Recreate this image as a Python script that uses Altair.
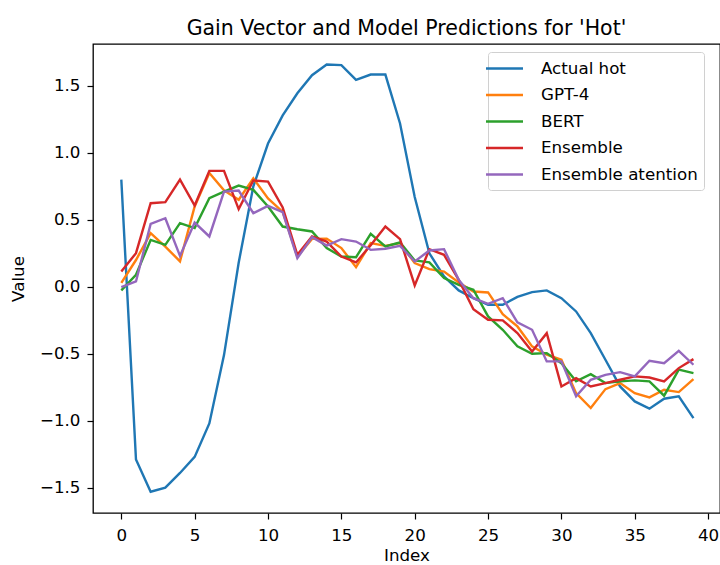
import altair as alt
import pandas as pd

# Index positions along the gain vector
index = list(range(40))

actual_hot = [0.80, -1.29, -1.53, -1.50, -1.39, -1.27, -1.02, -0.51, 0.18, 0.75,
              1.07, 1.28, 1.445, 1.58, 1.66, 1.655, 1.545, 1.585, 1.585, 1.22,
              0.67, 0.25, 0.077, -0.027, -0.085, -0.134, -0.134, -0.075, -0.040, -0.027,
              -0.085, -0.184, -0.346, -0.545, -0.744, -0.856, -0.910, -0.836, -0.818, -0.980]

gpt4 = [0.03, 0.20, 0.40, 0.30, 0.19, 0.60, 0.85, 0.72, 0.65, 0.81,
        0.66, 0.56, 0.226, 0.358, 0.36, 0.289, 0.147, 0.326, 0.306, 0.326,
        0.177, 0.132, 0.114, 0.032, -0.035, -0.042, -0.205, -0.296, -0.445, -0.507,
        -0.545, -0.794, -0.905, -0.764, -0.719, -0.794, -0.826, -0.769, -0.786, -0.689]

bert = [-0.027, 0.09, 0.35, 0.313, 0.475, 0.438, 0.662, 0.711, 0.756, 0.724,
        0.60, 0.45, 0.43, 0.413, 0.289, 0.226, 0.221, 0.396, 0.301, 0.331,
        0.197, 0.182, 0.065, 0.015, -0.022, -0.221, -0.321, -0.445, -0.50, -0.495,
        -0.57, -0.706, -0.652, -0.719, -0.706, -0.699, -0.706, -0.813, -0.619, -0.644]

ensemble = [0.114, 0.251, 0.624, 0.632, 0.80, 0.607, 0.866, 0.866, 0.58, 0.794,
            0.786, 0.592, 0.239, 0.376, 0.338, 0.226, 0.182, 0.31, 0.45, 0.356,
            0.01, 0.281, 0.239, 0.052, -0.167, -0.246, -0.251, -0.345, -0.483, -0.346,
            -0.744, -0.682, -0.744, -0.719, -0.694, -0.669, -0.677, -0.706, -0.607, -0.54]

ensemble_attention = [-0.002, 0.04, 0.47, 0.512, 0.231, 0.48, 0.376, 0.711, 0.719, 0.55,
                      0.604, 0.557, 0.214, 0.371, 0.308, 0.356, 0.338, 0.276, 0.284, 0.306,
                      0.189, 0.271, 0.281, 0.052, -0.085, -0.127, -0.085, -0.265, -0.321, -0.557,
                      -0.557, -0.818, -0.694, -0.657, -0.637, -0.669, -0.552, -0.570, -0.478, -0.582]

series_names = ["Actual hot", "GPT-4", "BERT", "Ensemble", "Ensemble atention"]
series_values = [actual_hot, gpt4, bert, ensemble, ensemble_attention]
series_colors = ["#1f77b4", "#ff7f0e", "#2ca02c", "#d62728", "#9467bd"]

x_ticks = [0, 5, 10, 15, 20, 25, 30, 35, 40]
y_ticks = [-1.5, -1.0, -0.5, 0.0, 0.5, 1.0, 1.5]

rows = []
for order, (name, vals) in enumerate(zip(series_names, series_values)):
    for i, v in zip(index, vals):
        rows.append({"Index": i, "Value": v, "Series": name, "order": order})
df = pd.DataFrame(rows)

FONT = "DejaVu Sans"
LABEL_SIZE = 16.7

axis_style = dict(
    grid=False, tickSize=6, tickWidth=1.2, tickColor="black", domain=False,
    labelFontSize=LABEL_SIZE, labelColor="black", labelFont=FONT,
    titleFontSize=LABEL_SIZE, titleFontWeight="normal", titleColor="black",
    titleFont=FONT,
)

chart = (
    alt.Chart(df)
    .mark_line(strokeWidth=2.4)
    .encode(
        x=alt.X(
            "Index:Q",
            scale=alt.Scale(domain=[-1.93, 40.81], nice=False, zero=False),
            axis=alt.Axis(values=x_ticks, title="Index", format="d",
                          labelPadding=8, titlePadding=4, **axis_style),
        ),
        y=alt.Y(
            "Value:Q",
            scale=alt.Scale(domain=[-1.689, 1.813], nice=False, zero=False),
            axis=alt.Axis(values=y_ticks, title="Value", format=".1f",
                          labelPadding=7, titlePadding=12, **axis_style),
        ),
        color=alt.Color(
            "Series:N",
            scale=alt.Scale(domain=series_names, range=series_colors),
            legend=alt.Legend(
                title=None, orient="none", legendX=395, legendY=8,
                symbolType="M-2,0L2,0", symbolSize=342, symbolStrokeWidth=2.4,
                labelFontSize=LABEL_SIZE, labelFont=FONT, labelColor="black",
                labelOffset=26, rowPadding=6.5,
                padding=6, cornerRadius=3, strokeColor="#d0d0d0",
                fillColor="white",
            ),
        ),
        order=alt.Order("order:Q"),
        detail="Series:N",
    )
    .properties(
        width=627,
        height=469,
        background="white",
        title=alt.TitleParams("Gain Vector and Model Predictions for 'Hot'",
                              fontSize=20.5, font=FONT, fontWeight="normal",
                              color="black", offset=5, anchor="middle"),
        autosize=alt.AutoSizeParams(type="none"),
        padding={"left": 93, "top": 44, "right": 0, "bottom": 52},
    )
    .configure_view(stroke="black", strokeWidth=1.3)
)

chart.save("out.html", embed_options={"renderer": "svg", "actions": False})
